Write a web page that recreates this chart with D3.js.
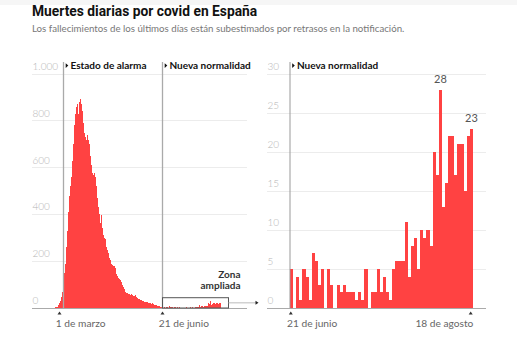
<!DOCTYPE html>
<html><head><meta charset="utf-8">
<script src="https://cdn.jsdelivr.net/npm/d3@7"></script>
<style>body{margin:0;background:#fff;}svg{display:block;}</style>
</head><body><svg id="c" width="517" height="351"></svg>
<script>
// ---------------- DATA ----------------
const leftStart = "2020-03-01"; // first day of leftValues
const leftValues = [
  0,0,0,1,2,3,4,5,12,20,30,45,70,100,150,190,260,330,410,480,
  520,560,630,700,780,830,860,870,830,880,892,870,840,790,750,730,720,740,720,700,
  650,610,575,570,575,560,520,470,430,400,365,397,340,312,300,295,260,250,235,215,
  205,190,184,180,178,170,145,135,128,125,120,110,100,90,80,70,62,64,58,60,
  56,60,55,52,50,54,46,42,40,38,34,33,30,32,27,26,24,26,22,20,
  22,18,20,16,14,13,12,10,9,7,5,4
]; // 1 mar - 20 jun
const rightStart = "2020-06-21";
const rightValues = [
  5,0,4,1,5,4,1,7,6,3,5,0,5,3,0,3,2,3,2,2,
  2,1,2,1,5,0,2,2,5,2,4,2,1,5,6,6,6,11,4,8,
  9,5,10,9,10,8,20,17,28,13,16,22,22,17,21,21,15,22,23
]; // 21 jun - 18 ago
const leftDomain = ["2020-02-12", "2020-09-14"];
const leftYTicks = [0, 200, 400, 600, 800, 1000];
const leftYLabels = ["0", "200", "400", "600", "800", "1.000"];
const rightYTicks = [0, 5, 10, 15, 20, 25, 30];
const rightYLabels = ["0", "5", "10", "15", "20", "25", "30"];
const leftXTicks = ["2020-03-10", "2020-06-21"];
const leftXLabels = ["1 de marzo", "21 de junio"];
const rightXTicks = ["2020-06-21", "2020-08-18"];
const rightXLabels = ["21 de junio", "18 de agosto"];
const leftEvents = ["2020-03-14", "2020-06-21"];
const leftEventLabels = ["Estado de alarma", "Nueva normalidad"];
const rightEvents = ["2020-06-21"];
const rightEventLabels = ["Nueva normalidad"];
const zoomBoxDates = ["2020-06-21", "2020-08-26"];
const zoomBoxTop = 44;
const highlightDates = ["2020-08-08", "2020-08-18"];
const title = "Muertes diarias por covid en España";
const subtitle = "Los fallecimientos de los últimos días están subestimados por retrasos en la notificación.";

// ---------------- DRAW ----------------
const parse = d3.utcParse("%Y-%m-%d");
const fmt = d3.utcFormat("%Y-%m-%d");
const seriesFrom = (start, vals) => vals.map((v, i) => ({date: d3.utcDay.offset(parse(start), i), value: v}));
const leftSeries = seriesFrom(leftStart, leftValues).concat(seriesFrom(rightStart, rightValues));
const rightSeries = seriesFrom(rightStart, rightValues);

const RED = "#ff4242";
const svg = d3.select("#c");
const FONT = "Lato, 'Open Sans', sans-serif";

svg.append("rect").attr("x", 0).attr("y", 0).attr("width", 517).attr("height", 5).attr("fill", "#f6f6f6");

svg.append("text").attr("x", 32).attr("y", 15.7).text(title)
  .attr("font-family", "Roboto, sans-serif").attr("font-weight", 700).attr("font-size", 13.8).attr("fill", "#111");
svg.append("text").attr("x", 32).attr("y", 32.3).text(subtitle)
  .attr("font-family", FONT).attr("font-weight", 400).attr("font-size", 9.7).attr("fill", "#777");

const y0 = 308, y1 = 74;
const yL = d3.scaleLinear().domain([0, 1000]).range([y0, y1]);
const yR = d3.scaleLinear().domain([0, 30]).range([y0, y1]);
const xL = d3.scaleUtc().domain(leftDomain.map(parse)).range([32, 247]);
const xR = d3.scaleBand().domain(rightSeries.map(d => fmt(d.date))).range([290, 473]).padding(0);

function grid(g, ticks, labels, y, x0, x1) {
  ticks.forEach((t, i) => {
    g.append("line").attr("x1", x0).attr("x2", x1).attr("y1", y(t)).attr("y2", y(t))
      .attr("stroke", t === 0 ? "#999" : "#ececec").attr("stroke-width", 1).attr("shape-rendering", "crispEdges");
    g.append("text").attr("x", x0 + 0.5).attr("y", y(t) - 4).text(labels[i])
      .attr("font-family", FONT).attr("font-weight", 300).attr("font-size", 10).attr("fill", "#b5b5b5");
  });
}
const gL = svg.append("g"), gR = svg.append("g");
grid(gL, leftYTicks, leftYLabels, yL, 32, 247);
grid(gR, rightYTicks, rightYLabels, yR, 267, 486);

// left bars
gL.append("g").selectAll("rect").data(leftSeries).join("rect")
  .attr("x", d => xL(d.date))
  .attr("width", d => xL(d3.utcDay.offset(d.date, 1)) - xL(d.date))
  .attr("y", d => yL(d.value))
  .attr("height", d => y0 - yL(d.value))
  .attr("fill", RED).attr("shape-rendering", "crispEdges");

// right bars
gR.append("g").selectAll("rect").data(rightSeries).join("rect")
  .attr("x", d => xR(fmt(d.date)))
  .attr("width", xR.bandwidth())
  .attr("y", d => yR(d.value))
  .attr("height", d => y0 - yR(d.value))
  .attr("fill", RED).attr("shape-rendering", "crispEdges");

// baselines redrawn over bars
gL.append("line").attr("x1", 32).attr("x2", 247).attr("y1", y0 + 0.5).attr("y2", y0 + 0.5).attr("stroke", "#aaa");
gR.append("line").attr("x1", 267).attr("x2", 486).attr("y1", y0 + 0.5).attr("y2", y0 + 0.5).attr("stroke", "#aaa");

// event lines
function events(g, dates, labels, xpos, w, col) {
  dates.forEach((d, i) => {
    const x = xpos(d);
    g.append("line").attr("x1", x).attr("x2", x).attr("y1", 62).attr("y2", y0)
      .attr("stroke", col).attr("stroke-width", w);
    g.append("path").attr("d", "M0,-2.3L2.6,0L0,2.3Z").attr("transform", `translate(${x + 2.2},65.6)`).attr("fill", "#111");
    g.append("text").attr("x", x + 7).attr("y", 69.3).text(labels[i])
      .attr("font-family", FONT).attr("font-weight", 700).attr("font-size", 10).attr("fill", "#111");
  });
}
events(gL, leftEvents, leftEventLabels, d => xL(parse(d)) + 0.5, 1.3, "#aaa");
events(gR, rightEvents, rightEventLabels, d => xR(d), 1, "#999");

// x ticks
function xticks(g, dates, labels, xpos, anchors) {
  dates.forEach((d, i) => {
    const x = xpos(d);
    g.append("path").attr("d", "M-2,1.6L2,1.6L0,-1.6Z").attr("transform", `translate(${x},313)`).attr("fill", "#333");
    g.append("text").attr("x", anchors[i] === "end" ? x + 2.7 : x - 3.7).attr("y", 327)
      .attr("text-anchor", anchors[i]).text(labels[i])
      .attr("font-family", FONT).attr("font-weight", 400).attr("font-size", 10.2).attr("fill", "#666");
  });
}
xticks(gL, leftXTicks, leftXLabels, d => xL(parse(d)) + 0.5, ["start", "start"]);
xticks(gR, rightXTicks, rightXLabels, d => xR(d) + 0.8, ["start", "end"]);

// zoom box
const bx0 = xL(parse(zoomBoxDates[0])), bx1 = xL(parse(zoomBoxDates[1]));
gL.append("rect").attr("x", bx0 + 0.5).attr("y", yL(zoomBoxTop)).attr("width", bx1 - bx0)
  .attr("height", y0 - yL(zoomBoxTop)).attr("fill", "none").attr("stroke", "#555").attr("stroke-width", 1);
const cy = (yL(zoomBoxTop) + y0) / 2;
svg.append("line").attr("x1", bx1 + 0.5).attr("x2", 256).attr("y1", cy).attr("y2", cy).attr("stroke", "#bbb").attr("stroke-width", 1);
svg.append("path").attr("d", "M0,-2L3,0L0,2Z").attr("transform", `translate(255.5,${cy})`).attr("fill", "#222");
const zt = gL.append("text").attr("text-anchor", "end").attr("font-family", FONT).attr("font-weight", 700)
  .attr("font-size", 10).attr("fill", "#333");
zt.append("tspan").attr("x", bx1 + 12.5).attr("y", 277.6).text("Zona");
zt.append("tspan").attr("x", bx1 + 12.5).attr("y", 289.2).text("ampliada");

// highlight labels
highlightDates.forEach(d => {
  const v = rightSeries.find(s => fmt(s.date) === d).value;
  gR.append("text").attr("x", xR(d) + xR.bandwidth() / 2).attr("y", yR(v) - 7).attr("text-anchor", "middle")
    .text(v).attr("font-family", FONT).attr("font-weight", 400).attr("font-size", 11).attr("fill", "#555");
});
</script></body></html>
